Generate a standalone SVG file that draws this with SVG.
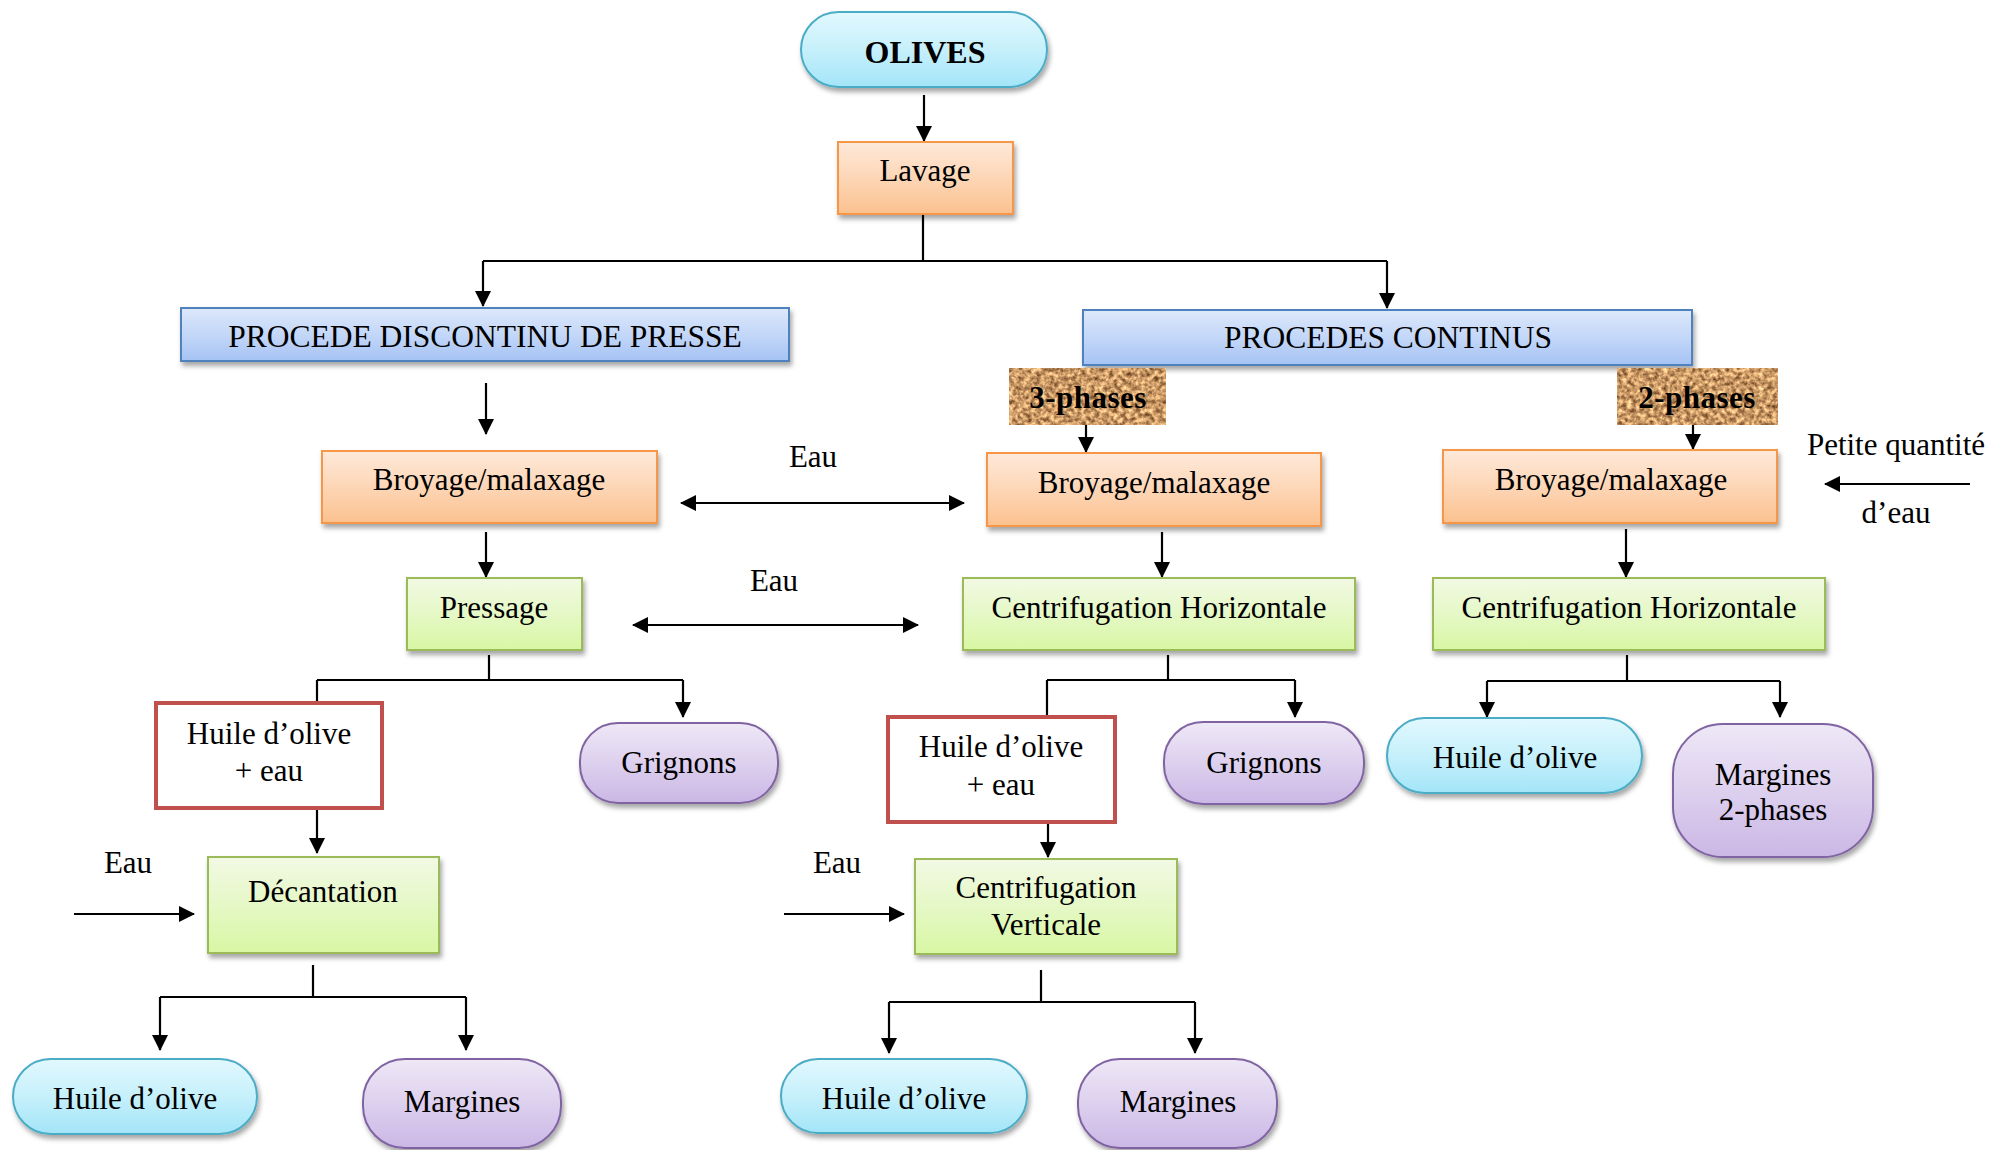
<svg xmlns="http://www.w3.org/2000/svg" width="1995" height="1150" viewBox="0 0 1995 1150">
  <style>
    text { font-family: "Liberation Serif", "Times New Roman", serif; font-size: 31px; fill: #000; text-anchor: middle; }
    .bold { font-weight: bold; }
    .cyan { fill: url(#gCyan); stroke: #4BACC6; stroke-width: 2; filter: url(#shadow); }
    .orange { fill: url(#gOrange); stroke: #F79646; stroke-width: 2; filter: url(#shadow); }
    .blue { fill: url(#gBlue); stroke: #4F81BD; stroke-width: 2; filter: url(#shadow); }
    .green { fill: url(#gGreen); stroke: #9BBB59; stroke-width: 2; filter: url(#shadow); }
    .purple { fill: url(#gPurple); stroke: #8064A2; stroke-width: 2; filter: url(#shadow); }
    .red { fill: #fff; stroke: #C0504D; stroke-width: 4; }
    .cork { fill: #C89A6A; filter: url(#cork); }
    #connectors path { fill: none; stroke: #000; stroke-width: 2.2; }
    .arr { marker-end: url(#ah); }
    .dbl { marker-start: url(#ah); marker-end: url(#ah); }
  </style>
  <defs>
    <linearGradient id="gCyan" x1="0" y1="0" x2="0" y2="1">
      <stop offset="0" stop-color="#E2F8FE"/><stop offset="0.5" stop-color="#C6F0FB"/><stop offset="1" stop-color="#A3E5F8"/>
    </linearGradient>
    <linearGradient id="gOrange" x1="0" y1="0" x2="0" y2="1">
      <stop offset="0" stop-color="#FEE9DA"/><stop offset="0.5" stop-color="#FDD6B6"/><stop offset="1" stop-color="#FBC18F"/>
    </linearGradient>
    <linearGradient id="gBlue" x1="0" y1="0" x2="0" y2="1">
      <stop offset="0" stop-color="#DDE8FB"/><stop offset="0.5" stop-color="#C3D7F8"/><stop offset="1" stop-color="#A6C3F4"/>
    </linearGradient>
    <linearGradient id="gGreen" x1="0" y1="0" x2="0" y2="1">
      <stop offset="0" stop-color="#F2F9E4"/><stop offset="0.5" stop-color="#E5F8C6"/><stop offset="1" stop-color="#D8F7A3"/>
    </linearGradient>
    <linearGradient id="gPurple" x1="0" y1="0" x2="0" y2="1">
      <stop offset="0" stop-color="#EEE8F6"/><stop offset="0.5" stop-color="#DDD0EE"/><stop offset="1" stop-color="#CBB7E5"/>
    </linearGradient>
    <filter id="shadow" x="-10%" y="-10%" width="125%" height="140%">
      <feDropShadow dx="2" dy="4" stdDeviation="2.5" flood-color="#000" flood-opacity="0.35"/>
    </filter>
    <!-- cork-like brown texture -->
    <filter id="cork" x="0" y="0" width="100%" height="100%" color-interpolation-filters="sRGB">
      <feTurbulence type="fractalNoise" baseFrequency="0.22" numOctaves="3" seed="7" result="n"/>
      <feColorMatrix in="n" type="matrix" values="1.1 0 0 0 0.24  1.0 0 0 0 0.1  0.8 0 0 0 0.0  0 0 0 0 1" result="c"/>
      <feComposite in="c" in2="SourceGraphic" operator="in"/>
    </filter>
    <marker id="ah" viewBox="0 0 16 16" refX="15" refY="8" markerWidth="16" markerHeight="16" markerUnits="userSpaceOnUse" orient="auto-start-reverse">
      <path d="M0,0 L16,8 L0,16 z" fill="#000"/>
    </marker>
  </defs>

  <rect width="1995" height="1150" fill="#fff"/>

  <!-- connectors -->
  <g id="connectors">
    <path class="arr" d="M924,95 V141"/>
    <path d="M923,214 V261 M483,261 H1387"/>
    <path class="arr" d="M483,261 V306"/>
    <path class="arr" d="M1387,261 V308"/>
    <path class="arr" d="M486,383 V434"/>
    <path class="arr" d="M1086,425 V452"/>
    <path class="arr" d="M1693,425 V449"/>
    <path class="dbl" d="M681,503 H964"/>
    <path class="dbl" d="M633,625 H918"/>
    <path class="arr" d="M1970,484 H1825"/>
    <path class="arr" d="M486,532 V577"/>
    <path class="arr" d="M1162,532 V577"/>
    <path class="arr" d="M1626,529 V577"/>
    <path d="M489,655 V680 M317,680 H683 M317,680 V702"/>
    <path class="arr" d="M683,680 V717"/>
    <path d="M1168,655 V680 M1047,680 H1295 M1047,680 V716"/>
    <path class="arr" d="M1295,680 V717"/>
    <path d="M1627,655 V681 M1487,681 H1780"/>
    <path class="arr" d="M1487,681 V717"/>
    <path class="arr" d="M1780,681 V717"/>
    <path class="arr" d="M317,808 V853"/>
    <path class="arr" d="M1048,823 V857"/>
    <path class="arr" d="M74,914 H194"/>
    <path class="arr" d="M784,914 H904"/>
    <path d="M313,965 V997 M160,997 H466"/>
    <path class="arr" d="M160,997 V1050"/>
    <path class="arr" d="M466,997 V1050"/>
    <path d="M1041,970 V1002 M889,1002 H1195"/>
    <path class="arr" d="M889,1002 V1053"/>
    <path class="arr" d="M1195,1002 V1053"/>
  </g>

  <!-- free labels -->
  <g id="labels">
    <text x="813" y="467">Eau</text>
    <text x="774" y="591">Eau</text>
    <text x="128" y="873">Eau</text>
    <text x="837" y="873">Eau</text>
    <text x="1896" y="455">Petite quantité</text>
    <text x="1896" y="523">d’eau</text>
  </g>

  <!-- nodes -->
  <g id="olives">
    <rect class="cyan" x="801" y="12" width="246" height="75" rx="37.5"/>
    <text class="bold" x="925" y="63" style="font-size:32px">OLIVES</text>
  </g>
  <g id="lavage">
    <rect class="orange" x="838" y="142" width="175" height="72"/>
    <text x="925" y="181">Lavage</text>
  </g>
  <g id="procede-discontinu">
    <rect class="blue" x="181" y="308" width="608" height="53"/>
    <text x="485" y="347" style="font-size:31.5px">PROCEDE DISCONTINU DE PRESSE</text>
  </g>
  <g id="procedes-continus">
    <rect class="blue" x="1083" y="310" width="609" height="55"/>
    <text x="1388" y="348" style="font-size:31.5px">PROCEDES CONTINUS</text>
  </g>
  <g id="trois-phases">
    <rect class="cork" x="1009" y="368" width="157" height="57"/>
    <text class="bold" x="1088" y="408" style="letter-spacing:0.5px">3-phases</text>
  </g>
  <g id="deux-phases">
    <rect class="cork" x="1617" y="368" width="161" height="57"/>
    <text class="bold" x="1697" y="408" style="letter-spacing:0.5px">2-phases</text>
  </g>
  <g id="broyage-presse">
    <rect class="orange" x="322" y="451" width="335" height="72"/>
    <text x="489" y="490">Broyage/malaxage</text>
  </g>
  <g id="broyage-3p">
    <rect class="orange" x="987" y="453" width="334" height="73"/>
    <text x="1154" y="493">Broyage/malaxage</text>
  </g>
  <g id="broyage-2p">
    <rect class="orange" x="1443" y="450" width="334" height="73"/>
    <text x="1611" y="490">Broyage/malaxage</text>
  </g>
  <g id="pressage">
    <rect class="green" x="407" y="578" width="175" height="72"/>
    <text x="494" y="618">Pressage</text>
  </g>
  <g id="centrif-h-3p">
    <rect class="green" x="963" y="578" width="392" height="72"/>
    <text x="1159" y="618">Centrifugation Horizontale</text>
  </g>
  <g id="centrif-h-2p">
    <rect class="green" x="1433" y="578" width="392" height="72"/>
    <text x="1629" y="618">Centrifugation Horizontale</text>
  </g>
  <g id="huile-eau-presse">
    <rect class="red" x="156" y="703" width="226" height="105"/>
    <text x="269" y="744">Huile d’olive</text>
    <text x="269" y="781">+ eau</text>
  </g>
  <g id="grignons-presse">
    <rect class="purple" x="580" y="723" width="198" height="80" rx="38"/>
    <text x="679" y="773">Grignons</text>
  </g>
  <g id="huile-eau-3p">
    <rect class="red" x="888" y="717" width="227" height="105"/>
    <text x="1001" y="757">Huile d’olive</text>
    <text x="1001" y="795">+ eau</text>
  </g>
  <g id="grignons-3p">
    <rect class="purple" x="1164" y="722" width="200" height="82" rx="39"/>
    <text x="1264" y="773">Grignons</text>
  </g>
  <g id="huile-2p">
    <rect class="cyan" x="1387" y="718" width="255" height="75" rx="37.5"/>
    <text x="1515" y="768">Huile d’olive</text>
  </g>
  <g id="margines-2p">
    <rect class="purple" x="1673" y="724" width="200" height="133" rx="50"/>
    <text x="1773" y="785">Margines</text>
    <text x="1773" y="820">2-phases</text>
  </g>
  <g id="decantation">
    <rect class="green" x="208" y="857" width="231" height="96"/>
    <text x="323" y="902">Décantation</text>
  </g>
  <g id="centrif-v">
    <rect class="green" x="915" y="859" width="262" height="95"/>
    <text x="1046" y="898">Centrifugation</text>
    <text x="1046" y="935">Verticale</text>
  </g>
  <g id="huile-presse">
    <rect class="cyan" x="13" y="1059" width="244" height="75" rx="37.5"/>
    <text x="135" y="1109">Huile d’olive</text>
  </g>
  <g id="margines-presse">
    <rect class="purple" x="363" y="1059" width="198" height="89" rx="42"/>
    <text x="462" y="1112">Margines</text>
  </g>
  <g id="huile-3p">
    <rect class="cyan" x="781" y="1059" width="246" height="74" rx="37"/>
    <text x="904" y="1109">Huile d’olive</text>
  </g>
  <g id="margines-3p">
    <rect class="purple" x="1078" y="1059" width="199" height="89" rx="42"/>
    <text x="1178" y="1112">Margines</text>
  </g>
</svg>
